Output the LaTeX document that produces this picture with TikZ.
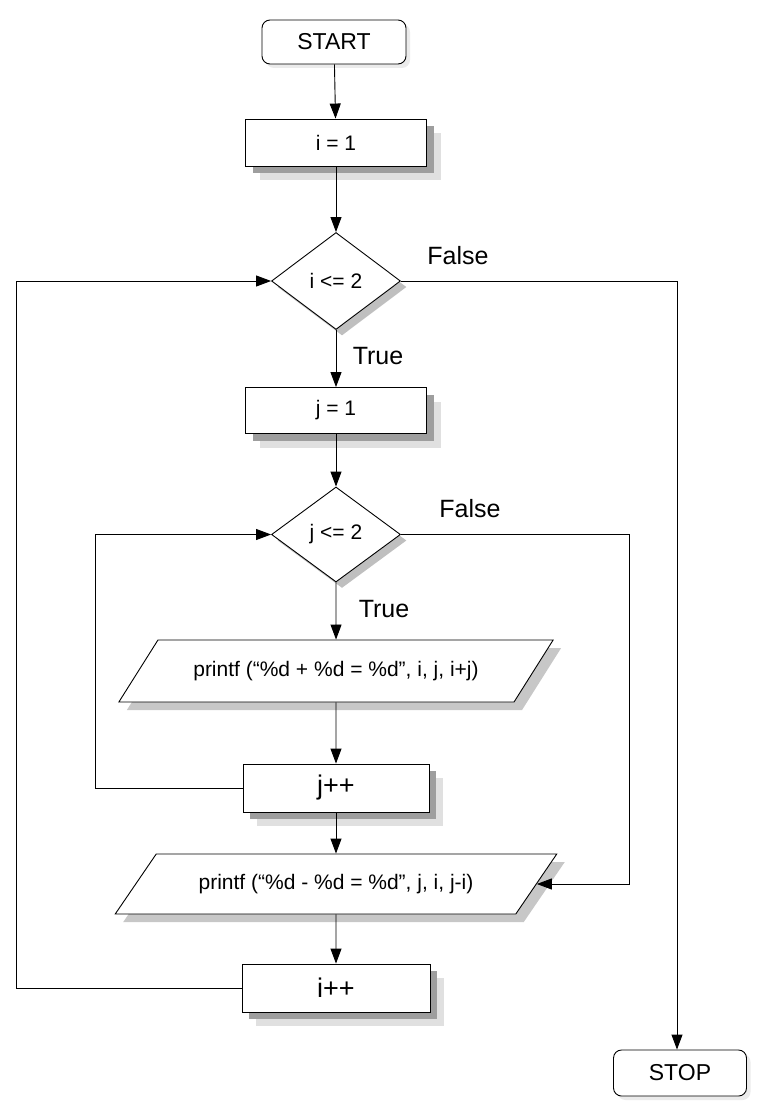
\documentclass[tikz,border=0pt]{standalone}
\usepackage{fontspec}
\setmainfont{Liberation Sans}
\usetikzlibrary{shapes.geometric,arrows.meta,shadows}
\begin{document}
\begin{tikzpicture}[x=1pt,y=-1pt,
  line width=0.9pt,
  arr/.style={-{Triangle[length=15pt,width=11pt]}},
  procbox/.style={draw, fill=white, inner sep=0pt,
     general shadow={fill=black!12, shadow xshift=14pt, shadow yshift=-14pt},
     general shadow={fill=black!38, shadow xshift=7pt, shadow yshift=-7pt}},
  term/.style={draw, fill=white, rounded corners=8pt, inner sep=0pt,
     general shadow={fill=black!8, shadow xshift=4pt, shadow yshift=-4pt}},
  dec/.style={diamond, draw, fill=white, minimum width=129pt, minimum height=97pt, inner sep=0pt,
     general shadow={fill=black!25, shadow xshift=6pt, shadow yshift=-6pt}},
  io/.style={trapezium, trapezium left angle=32, trapezium right angle=148, trapezium stretches=true,
     draw, fill=white, inner sep=0pt,
     general shadow={fill=black!22, shadow xshift=8pt, shadow yshift=-8pt}},
  huge/.style={font=\fontsize{27}{29}\selectfont},
  big/.style={font=\fontsize{25}{27}\selectfont},
  mid/.style={font=\fontsize{23}{25}\selectfont},
  small/.style={font=\fontsize{21}{23}\selectfont},
]
\useasboundingbox (0,0) rectangle (759,1116);

\node[term, mid, minimum width=144pt, minimum height=44pt] (start) at (334,42) {START};
\node[procbox, small, minimum width=181pt, minimum height=47pt] (i1) at (336,142.5) {i = 1};
\node[dec, small] (d1) at (336,281) {i <= 2};
\node[procbox, small, minimum width=181pt, minimum height=46pt] (j1) at (336,410.5) {j = 1};
\node[dec, small, minimum height=95pt] (d2) at (336,534.5) {j <= 2};
\node[io, small, minimum width=435pt, minimum height=62pt] (p1) at (336,671) {printf (“\%d + \%d = \%d”, i, j, i+j)};
\node[procbox, huge, minimum width=186pt, minimum height=48pt] (jpp) at (336,788) {j++};
\node[io, small, minimum width=442pt, minimum height=60pt] (p2) at (336,884) {printf (“\%d - \%d = \%d”, j, i, j-i)};
\node[procbox, huge, minimum width=188pt, minimum height=48pt] (ipp) at (336,988) {i++};
\node[term, mid, minimum width=133pt, minimum height=46pt] (stop) at (680,1073) {STOP};

\node[big] (f1) at (458,256) {False};
\node[big] (t1) at (378,356) {True};
\node[big] (f2) at (470,509) {False};
\node[big] (t2) at (384,609) {True};

\coordinate (c1) at (677,0);
\coordinate (c2) at (629,0);
\coordinate (c3) at (95,0);
\coordinate (c4) at (16,0);

\draw[arr] (start) -- (i1);
\draw[arr] (i1) -- (d1);
\draw[arr] (d1) -- (j1);
\draw[arr] (j1) -- (d2);
\draw[arr] (d2) -- (p1);
\draw[arr] (p1) -- (jpp);
\draw[arr] (jpp) -- (p2);
\draw[arr] (p2) -- (ipp);

\draw[arr] (d1.east) -- (d1.east -| c1) -- (c1 |- stop.north);
\draw[arr] (d2.east) -- (d2.east -| c2) -- (c2 |- p2.east) -- (p2.east);
\draw[arr] (jpp.west) -- (jpp.west -| c3) -- (c3 |- d2.west) -- (d2.west);
\draw[arr] (ipp.west) -- (ipp.west -| c4) -- (c4 |- d1.west) -- (d1.west);
\end{tikzpicture}
\end{document}
